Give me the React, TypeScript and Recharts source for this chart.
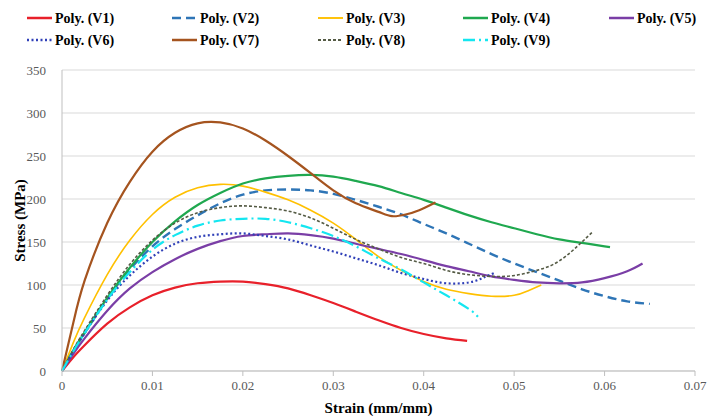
import React from 'react';
import { LineChart, Line, XAxis, YAxis, CartesianGrid } from 'recharts';

const seriesNames = ['Poly. (V1)', 'Poly. (V2)', 'Poly. (V3)', 'Poly. (V4)', 'Poly. (V5)', 'Poly. (V6)', 'Poly. (V7)', 'Poly. (V8)', 'Poly. (V9)'];

const strainV1 = [0, 0.00125, 0.0025, 0.005, 0.0075, 0.01, 0.0125, 0.015, 0.0175, 0.02, 0.0225, 0.025, 0.0275, 0.03, 0.0325, 0.035, 0.0375, 0.04, 0.0425, 0.0448];
const stressV1 = [0, 16, 30, 55, 74, 88, 97, 102, 104, 104, 101, 96, 88, 79, 69, 59, 50, 43, 38, 35];

const strainV2 = [0, 0.00125, 0.0025, 0.005, 0.0075, 0.01, 0.0125, 0.015, 0.0175, 0.02, 0.0225, 0.025, 0.0275, 0.03, 0.0325, 0.035, 0.0375, 0.04, 0.0425, 0.045, 0.0475, 0.05, 0.0525, 0.055, 0.0575, 0.06, 0.0625, 0.065];
const stressV2 = [0, 23, 44, 84, 118, 145, 165, 181, 195, 205, 210, 211, 210, 206, 199, 191, 182, 171, 160, 148, 136, 125, 115, 105, 95, 87, 81, 78];

const strainV3 = [0, 0.00125, 0.0025, 0.005, 0.0075, 0.01, 0.0125, 0.015, 0.0175, 0.02, 0.0225, 0.025, 0.0275, 0.03, 0.0325, 0.035, 0.0375, 0.04, 0.0425, 0.045, 0.0475, 0.05, 0.0515, 0.053];
const stressV3 = [0, 33, 62, 112, 152, 182, 202, 213, 217, 215, 208, 199, 187, 172, 153, 133, 117, 104, 95, 90, 87, 88, 93, 100];

const strainV4 = [0, 0.00125, 0.0025, 0.005, 0.0075, 0.01, 0.0125, 0.015, 0.0175, 0.02, 0.0225, 0.025, 0.0275, 0.03, 0.0325, 0.035, 0.0375, 0.04, 0.0425, 0.045, 0.0475, 0.05, 0.0525, 0.055, 0.0575, 0.06, 0.0606];
const stressV4 = [0, 24, 45, 85, 120, 150, 174, 193, 207, 218, 224, 227, 228, 226, 221, 215, 207, 199, 190, 181, 173, 166, 159, 153, 149, 145, 144];

const strainV5 = [0, 0.00125, 0.0025, 0.005, 0.0075, 0.01, 0.0125, 0.015, 0.0175, 0.02, 0.0225, 0.025, 0.0275, 0.03, 0.0325, 0.035, 0.0375, 0.04, 0.0425, 0.045, 0.0475, 0.05, 0.0525, 0.055, 0.0575, 0.06, 0.0625, 0.0642];
const stressV5 = [0, 20, 38, 70, 96, 115, 130, 142, 151, 157, 159, 160, 158, 154, 148, 142, 136, 129, 122, 116, 110, 106, 103, 102, 103, 108, 116, 125];

const strainV6 = [0, 0.00125, 0.0025, 0.005, 0.0075, 0.01, 0.0125, 0.015, 0.0175, 0.02, 0.0225, 0.025, 0.0275, 0.03, 0.0325, 0.035, 0.0375, 0.04, 0.0425, 0.045, 0.0465, 0.048];
const stressV6 = [0, 23, 44, 82, 111, 133, 148, 156, 159, 160, 157, 153, 146, 139, 131, 123, 114, 107, 102, 103, 108, 115];

const strainV7 = [0, 0.00125, 0.0025, 0.005, 0.0075, 0.01, 0.0125, 0.015, 0.0175, 0.02, 0.0225, 0.025, 0.0275, 0.03, 0.0325, 0.035, 0.0365, 0.038, 0.0395, 0.0413];
const stressV7 = [0, 56, 105, 172, 220, 255, 277, 288, 289, 282, 268, 250, 230, 210, 195, 185, 180, 182, 187, 196];

const strainV8 = [0, 0.00125, 0.0025, 0.005, 0.0075, 0.01, 0.0125, 0.015, 0.0175, 0.02, 0.0225, 0.025, 0.0275, 0.03, 0.0325, 0.035, 0.0375, 0.04, 0.0425, 0.045, 0.0475, 0.05, 0.0525, 0.055, 0.0575, 0.0587];
const stressV8 = [0, 25, 47, 88, 124, 152, 172, 184, 190, 192, 190, 186, 178, 166, 153, 142, 132, 125, 117, 112, 110, 111, 117, 128, 150, 162];

const strainV9 = [0, 0.00125, 0.0025, 0.005, 0.0075, 0.01, 0.0125, 0.015, 0.0175, 0.02, 0.0225, 0.025, 0.0275, 0.03, 0.0325, 0.035, 0.0375, 0.04, 0.0425, 0.045, 0.046];
const stressV9 = [0, 23, 44, 83, 115, 141, 158, 169, 175, 177, 177, 173, 166, 157, 145, 131, 118, 103, 88, 72, 63];

const xTicks = [0, 0.01, 0.02, 0.03, 0.04, 0.05, 0.06, 0.07];
const yTicks = [0, 50, 100, 150, 200, 250, 300, 350];

const build = (xs: number[], ys: number[]) => xs.map((x, i) => ({ x, y: ys[i] }));

const styles = [
  { color: '#E8202A', dash: undefined, width: 2.2 },
  { color: '#2E75B6', dash: '9 5', width: 2.4 },
  { color: '#FFC000', dash: undefined, width: 1.6 },
  { color: '#1FA84F', dash: undefined, width: 2.2 },
  { color: '#7A3EA6', dash: undefined, width: 2.2 },
  { color: '#3040B8', dash: '2 2.5', width: 2.2 },
  { color: '#A5541F', dash: undefined, width: 2.2 },
  { color: '#555B45', dash: '3 2', width: 1.6 },
  { color: '#14E6F0', dash: '12 4 2 4', width: 2.2 },
];

const datasets = [
  build(strainV1, stressV1),
  build(strainV2, stressV2),
  build(strainV3, stressV3),
  build(strainV4, stressV4),
  build(strainV5, stressV5),
  build(strainV6, stressV6),
  build(strainV7, stressV7),
  build(strainV8, stressV8),
  build(strainV9, stressV9),
];

const FONT = "'Liberation Serif', 'DejaVu Serif', serif";

const legendCols = [27, 172, 318, 463, 609];
const legendRows = [18, 40];

export default function App() {
  return (
    <div style={{ position: 'absolute', left: 0, top: 0, width: 715, height: 416, background: '#fff', fontFamily: FONT }}>
      <svg width={715} height={60} style={{ position: 'absolute', left: 0, top: 0 }}>
        {seriesNames.map((name, i) => {
          const row = Math.floor(i / 5);
          const col = i % 5;
          const x = legendCols[col];
          const y = legendRows[row];
          const s = styles[i];
          return (
            <g key={name}>
              <line x1={x} x2={x + 25} y1={y} y2={y} stroke={s.color} strokeWidth={s.width + 0.3} strokeDasharray={s.dash} />
              <text x={x + 28} y={y + 4.5} style={{ fontFamily: FONT, fontWeight: 'bold', fontSize: 14 }} fill="#000">{name}</text>
            </g>
          );
        })}
      </svg>
      <div style={{ position: 'absolute', left: 0, top: 0 }}>
        <LineChart width={715} height={416} margin={{ top: 70, right: 20, bottom: 0, left: 0 }} style={{ fontFamily: FONT }}>
          <CartesianGrid vertical={false} stroke="#D9D9D9" strokeWidth={1} />
          <XAxis
            dataKey="x"
            type="number"
            domain={[0, 0.07]}
            ticks={xTicks}
            tickFormatter={(v: number) => String(v)}
            allowDuplicatedCategory={false}
            height={45}
            stroke="#BFBFBF"
            tickSize={5}
            tickMargin={5}
            tick={{ fill: '#595959', fontSize: 13, style: { fontFamily: FONT } }}
            label={{ value: 'Strain (mm/mm)', position: 'insideBottom', offset: 3, style: { fontFamily: FONT, fontWeight: 'bold', fontSize: 15, fill: '#000' } }}
          />
          <YAxis
            type="number"
            domain={[0, 350]}
            ticks={yTicks}
            width={62}
            stroke="#BFBFBF"
            tickLine={false}
            tickMargin={10}
            tick={{ fill: '#595959', fontSize: 13, style: { fontFamily: FONT } }}
            label={{ value: 'Stress (MPa)', angle: -90, position: 'insideLeft', offset: 20, style: { textAnchor: 'middle', fontFamily: FONT, fontWeight: 'bold', fontSize: 15, fill: '#000' } }}
          />
          {datasets.map((d, i) => (
            <Line
              key={seriesNames[i]}
              data={d}
              dataKey="y"
              name={seriesNames[i]}
              type="natural"
              stroke={styles[i].color}
              strokeWidth={styles[i].width}
              strokeDasharray={styles[i].dash}
              dot={false}
              activeDot={false}
              isAnimationActive={false}
            />
          ))}
        </LineChart>
      </div>
    </div>
  );
}
